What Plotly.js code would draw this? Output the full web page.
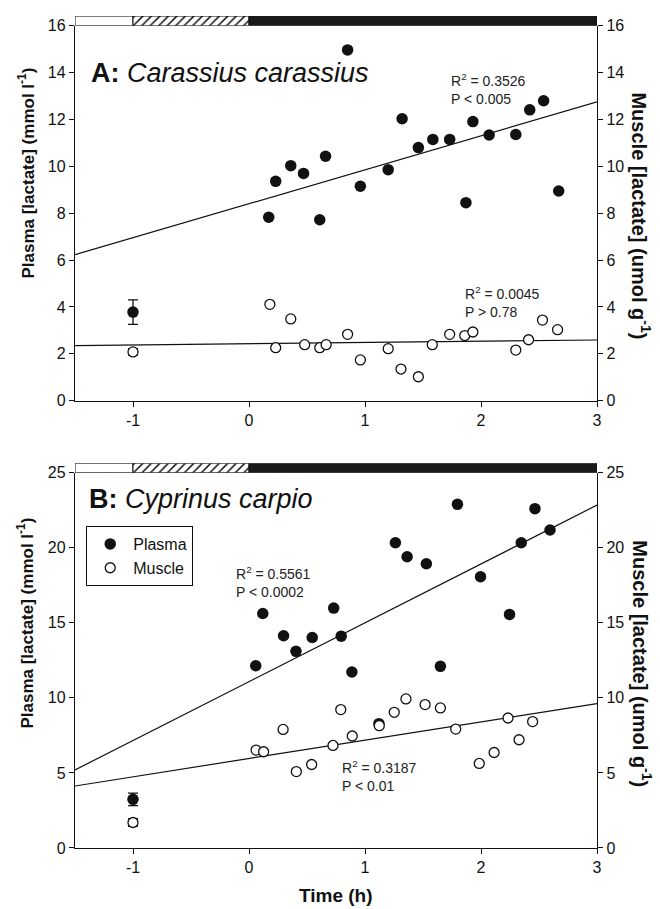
<!DOCTYPE html>
<html>
<head>
<meta charset="utf-8">
<script src="https://cdn.plot.ly/plotly-3.0.1.min.js"></script>
<style>
  html, body { margin: 0; padding: 0; background: #fff; }
  #chart { width: 660px; height: 909px; }
</style>
</head>
<body>
<div id="chart"></div>
<script>
// ---------- DATA ----------
// Phase bar (normoxia / transition / anoxia)
const phaseStart   = [-1.5, -1, 0];
const phaseWidth   = [0.5, 1, 3];
const phaseColor   = ['#ffffff', '#ffffff', '#1a1a1a'];
const phasePattern = ['', '/', ''];

// Panel A: Carassius carassius
const plasmaA_x = [0.17, 0.23, 0.36, 0.47, 0.61, 0.66, 0.85, 0.96, 1.20, 1.32, 1.46, 1.585, 1.73, 1.87, 1.93, 2.07, 2.30, 2.42, 2.54, 2.67];
const plasmaA_y = [7.83, 9.36, 10.03, 9.70, 7.72, 10.43, 14.97, 9.15, 9.86, 12.03, 10.80, 11.15, 11.15, 8.45, 11.91, 11.34, 11.36, 12.41, 12.80, 8.95];
const muscleA_x = [0.18, 0.23, 0.36, 0.48, 0.61, 0.665, 0.85, 0.96, 1.20, 1.31, 1.46, 1.58, 1.73, 1.86, 1.93, 2.30, 2.41, 2.53, 2.66];
const muscleA_y = [4.11, 2.26, 3.49, 2.39, 2.26, 2.39, 2.83, 1.74, 2.22, 1.35, 1.02, 2.39, 2.83, 2.78, 2.93, 2.16, 2.60, 3.44, 3.03];
const ctrlX = [-1];
const ctrlPlasmaA = [3.78], ctrlPlasmaA_err = [0.52];
const ctrlMuscleA = [2.08], ctrlMuscleA_err = [0.14];

// Panel B: Cyprinus carpio
const plasmaB_x = [0.058, 0.119, 0.298, 0.405, 0.545, 0.730, 0.795, 0.887, 1.120, 1.262, 1.363, 1.529, 1.650, 1.797, 1.996, 2.246, 2.347, 2.465, 2.595];
const plasmaB_y = [12.14, 15.62, 14.14, 13.10, 14.02, 15.98, 14.11, 11.72, 8.28, 20.33, 19.40, 18.93, 12.10, 22.89, 18.07, 15.56, 20.33, 22.60, 21.18];
const muscleB_x = [0.061, 0.126, 0.294, 0.408, 0.540, 0.724, 0.791, 0.890, 1.123, 1.252, 1.353, 1.518, 1.650, 1.782, 1.985, 2.113, 2.233, 2.328, 2.445];
const muscleB_y = [6.52, 6.41, 7.90, 5.09, 5.56, 6.83, 9.22, 7.46, 8.15, 9.04, 9.93, 9.55, 9.33, 7.92, 5.63, 6.36, 8.66, 7.21, 8.42];
const ctrlPlasmaB = [3.24], ctrlPlasmaB_err = [0.42];
const ctrlMuscleB = [1.70], ctrlMuscleB_err = [0.25];

// Regression lines (end points)
const fitX = [-1.5, 3];
const fitPlasmaA = [6.23, 12.75];
const fitMuscleA = [2.35, 2.59];
const fitPlasmaB = [5.20, 22.84];
const fitMuscleB = [4.13, 9.62];

// Stats labels
const statsA = ['R<sup>2</sup> = 0.3526<br>P &lt; 0.005', 'R<sup>2</sup> = 0.0045<br>P &gt; 0.78'];
const statsB = ['R<sup>2</sup> = 0.5561<br>P &lt; 0.0002', 'R<sup>2</sup> = 0.3187<br>P &lt; 0.01'];

const xTicks = [-1, 0, 1, 2, 3];

// ---------- STYLE ----------
const FONT = 'Liberation Sans, Arial, Helvetica, sans-serif';
const filled = { symbol: 'circle', size: 11.5, color: '#111111', line: { width: 0 } };
const openM  = { symbol: 'circle', size: 10, color: '#ffffff', line: { width: 1.3, color: '#111111' } };
const lineStyle = { color: '#111111', width: 1.2 };
const errStyle = (arr) => ({ type: 'data', array: arr, visible: true, color: '#111111', thickness: 1.3, width: 5 });

function phaseTraces(xa, ya) {
  return phaseStart.map((s, i) => {
    const m = { color: phaseColor[i], line: { color: '#111111', width: 1 } };
    if (phasePattern[i]) {
      m.pattern = { shape: phasePattern[i], fgcolor: '#111111', bgcolor: '#ffffff', fillmode: 'replace', size: 6, solidity: 0.25 };
    }
    return {
      type: 'bar', orientation: 'h', xaxis: xa, yaxis: ya,
      y: [0], x: [phaseWidth[i]], base: [s], width: [1],
      marker: m, hoverinfo: 'skip', showlegend: false
    };
  });
}

const traces = [].concat(
  phaseTraces('x', 'y5'),
  phaseTraces('x2', 'y6'),
  [
  // Panel A
  { type: 'scatter', mode: 'lines', x: fitX, y: fitPlasmaA, xaxis: 'x', yaxis: 'y', line: lineStyle, showlegend: false, hoverinfo: 'skip' },
  { type: 'scatter', mode: 'lines', x: fitX, y: fitMuscleA, xaxis: 'x', yaxis: 'y2', line: lineStyle, showlegend: false, hoverinfo: 'skip' },
  { type: 'scatter', mode: 'markers', x: plasmaA_x, y: plasmaA_y, xaxis: 'x', yaxis: 'y', marker: filled, showlegend: false },
  { type: 'scatter', mode: 'markers', x: ctrlX, y: ctrlPlasmaA, xaxis: 'x', yaxis: 'y', marker: filled, error_y: errStyle(ctrlPlasmaA_err), showlegend: false },
  { type: 'scatter', mode: 'markers', x: muscleA_x, y: muscleA_y, xaxis: 'x', yaxis: 'y2', marker: openM, showlegend: false },
  { type: 'scatter', mode: 'markers', x: ctrlX, y: ctrlMuscleA, xaxis: 'x', yaxis: 'y2', marker: openM, error_y: errStyle(ctrlMuscleA_err), showlegend: false },
  // Panel B
  { type: 'scatter', mode: 'lines', x: fitX, y: fitPlasmaB, xaxis: 'x2', yaxis: 'y3', line: lineStyle, showlegend: false, hoverinfo: 'skip' },
  { type: 'scatter', mode: 'lines', x: fitX, y: fitMuscleB, xaxis: 'x2', yaxis: 'y4', line: lineStyle, showlegend: false, hoverinfo: 'skip' },
  { type: 'scatter', mode: 'markers', name: 'Plasma', x: plasmaB_x, y: plasmaB_y, xaxis: 'x2', yaxis: 'y3', marker: filled, showlegend: true },
  { type: 'scatter', mode: 'markers', x: ctrlX, y: ctrlPlasmaB, xaxis: 'x2', yaxis: 'y3', marker: filled, error_y: errStyle(ctrlPlasmaB_err), showlegend: false },
  { type: 'scatter', mode: 'markers', name: 'Muscle', x: muscleB_x, y: muscleB_y, xaxis: 'x2', yaxis: 'y4', marker: openM, showlegend: true },
  { type: 'scatter', mode: 'markers', x: ctrlX, y: ctrlMuscleB, xaxis: 'x2', yaxis: 'y4', marker: openM, error_y: errStyle(ctrlMuscleB_err), showlegend: false }
  ]
);

const axBase = {
  showline: true, linecolor: '#111111', linewidth: 1.2, mirror: false,
  ticks: 'outside', ticklen: 5, tickwidth: 1, tickcolor: '#111111',
  showgrid: false, zeroline: false, tickfont: { family: FONT, size: 16, color: '#111111' },
  fixedrange: true
};
const xAx = (anchor) => Object.assign({}, axBase, { anchor: anchor, domain: [0, 1], range: [-1.5, 3], tickvals: xTicks, ticktext: xTicks.map(String) });

const yAdom = [0.5338, 0.9812];
const yBdom = [0, 0.4479];

const layout = {
  width: 660, height: 909,
  margin: { l: 75, r: 63, t: 10, b: 61 },
  paper_bgcolor: '#ffffff', plot_bgcolor: 'rgba(0,0,0,0)',
  font: { family: FONT, color: '#111111' },
  bargap: 0,
  barmode: 'overlay',
  showlegend: true,
  legend: {
    x: 0.0215, y: 0.3842, xanchor: 'left', yanchor: 'top',
    bordercolor: '#111111', borderwidth: 1, bgcolor: '#ffffff',
    itemwidth: 36,
    font: { family: FONT, size: 16, color: '#111111' }
  },
  xaxis: xAx('y'),
  xaxis2: xAx('y3'),
  yaxis: Object.assign({}, axBase, { domain: yAdom, anchor: 'x', range: [0, 16], dtick: 2 }),
  yaxis2: Object.assign({}, axBase, { overlaying: 'y', side: 'right', anchor: 'x', range: [0, 16], dtick: 2 }),
  yaxis3: Object.assign({}, axBase, { domain: yBdom, anchor: 'x2', range: [0, 25], dtick: 5 }),
  yaxis4: Object.assign({}, axBase, { overlaying: 'y3', side: 'right', anchor: 'x2', range: [0, 25], dtick: 5 }),
  yaxis5: { domain: [0.9812, 0.9928], anchor: 'x', range: [-0.5, 0.5], visible: false, fixedrange: true },
  yaxis6: { domain: [0.4479, 0.4591], anchor: 'x2', range: [-0.5, 0.5], visible: false, fixedrange: true },
  annotations: [
    { xref: 'x domain', yref: 'y domain', x: 0.026, y: 0.874, xanchor: 'left', yanchor: 'middle', showarrow: false,
      text: '<b>A:</b> <i>Carassius carassius</i>', font: { family: FONT, size: 27, color: '#111111' } },
    { xref: 'x2 domain', yref: 'y3 domain', x: 0.0235, y: 0.929, xanchor: 'left', yanchor: 'middle', showarrow: false,
      text: '<b>B:</b> <i>Cyprinus carpio</i>', font: { family: FONT, size: 27, color: '#111111' } },
    { xref: 'x', yref: 'y', x: 1.725, y: 14.15, xanchor: 'left', yanchor: 'top', align: 'left', showarrow: false,
      text: statsA[0], font: { family: FONT, size: 14, color: '#222222' } },
    { xref: 'x', yref: 'y', x: 1.848, y: 5.05, xanchor: 'left', yanchor: 'top', align: 'left', showarrow: false,
      text: statsA[1], font: { family: FONT, size: 14, color: '#222222' } },
    { xref: 'x2', yref: 'y3', x: -0.131, y: 19.06, xanchor: 'left', yanchor: 'top', align: 'left', showarrow: false,
      text: statsB[0], font: { family: FONT, size: 14, color: '#222222' } },
    { xref: 'x2', yref: 'y3', x: 0.788, y: 6.14, xanchor: 'left', yanchor: 'top', align: 'left', showarrow: false,
      text: statsB[1], font: { family: FONT, size: 14, color: '#222222' } },
    { xref: 'paper', yref: 'paper', x: -0.0939, y: 0.806, xanchor: 'center', yanchor: 'middle', textangle: -90, showarrow: false,
      text: '<b>Plasma [lactate] (mmol l<sup>-1</sup>)</b>', font: { family: FONT, size: 17, color: '#111111' } },
    { xref: 'paper', yref: 'paper', x: -0.0958, y: 0.269, xanchor: 'center', yanchor: 'middle', textangle: -90, showarrow: false,
      text: '<b>Plasma [lactate] (mmol l<sup>-1</sup>)</b>', font: { family: FONT, size: 17, color: '#111111' } },
    { xref: 'paper', yref: 'paper', x: 1.0856, y: 0.754, xanchor: 'center', yanchor: 'middle', textangle: 90, showarrow: false,
      text: '<b>Muscle [lactate] (umol g<sup>-1</sup>)</b>', font: { family: FONT, size: 20, color: '#111111' } },
    { xref: 'paper', yref: 'paper', x: 1.0856, y: 0.2196, xanchor: 'center', yanchor: 'middle', textangle: 90, showarrow: false,
      text: '<b>Muscle [lactate] (umol g<sup>-1</sup>)</b>', font: { family: FONT, size: 20, color: '#111111' } },
    { xref: 'paper', yref: 'paper', x: 0.5, y: -0.0561, xanchor: 'center', yanchor: 'middle', showarrow: false,
      text: '<b>Time (h)</b>', font: { family: FONT, size: 19, color: '#111111' } }
  ]
};

Plotly.newPlot('chart', traces, layout, { displayModeBar: false, staticPlot: true });
</script>
</body>
</html>
